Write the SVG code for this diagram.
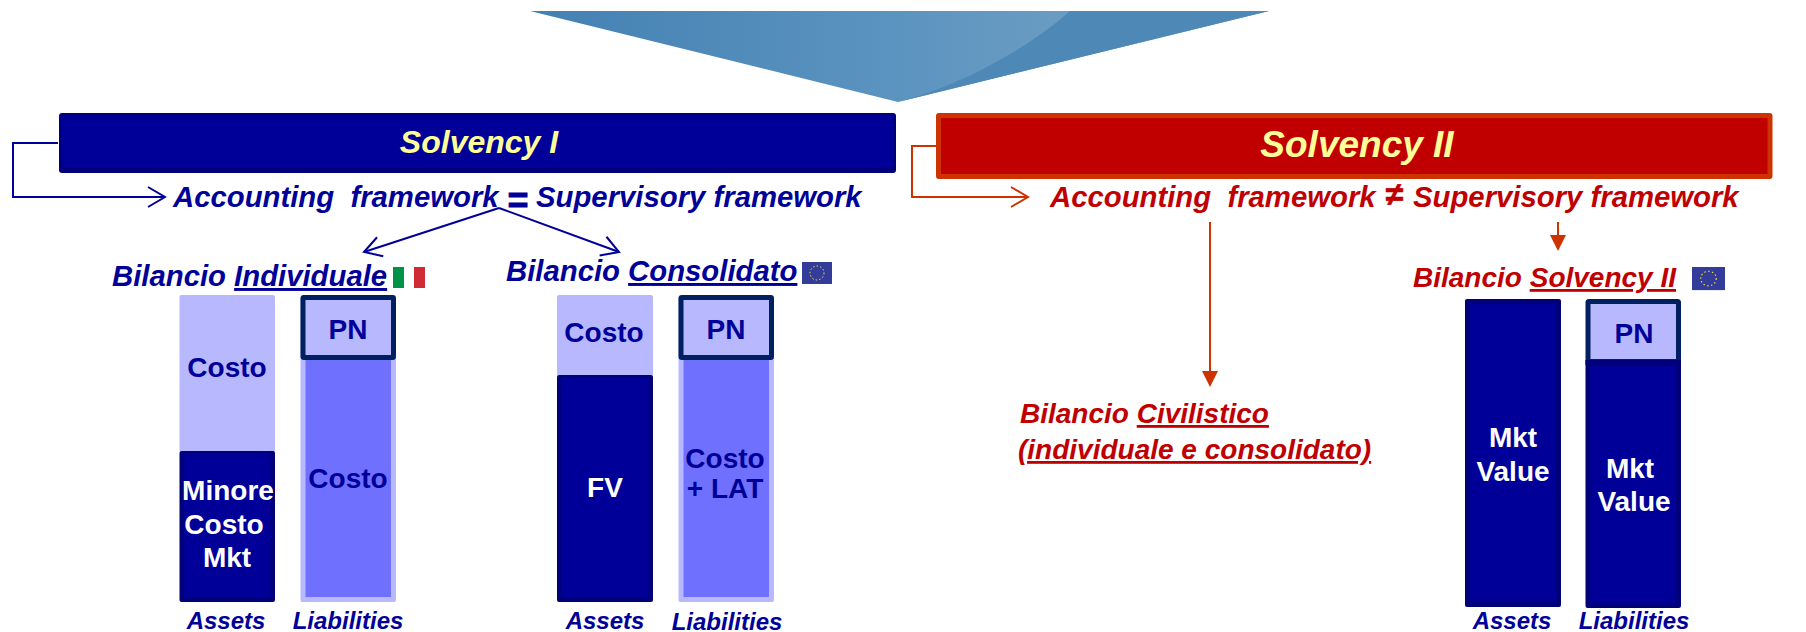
<svg xmlns="http://www.w3.org/2000/svg" width="1806" height="632" viewBox="0 0 1806 632">
<style>
text{font-family:"Liberation Sans",Arial,sans-serif;font-weight:bold;white-space:pre}
.i{font-style:italic}
.b{fill:#000099}
.r{fill:#C00000}
.w{fill:#fff}
.m{font-size:28px;text-anchor:middle}
.l{font-size:24px;font-style:italic;text-anchor:middle;fill:#000099}
.h{font-size:29.300px;font-style:italic}
.h2{font-size:28px;font-style:italic}
.u{text-decoration:underline}
.dko{fill:#000078}
.dki{fill:#000099}
.lt{fill:#B8B8FF}
.md{fill:#7070FF}
.pn{fill:#B8B8FF;stroke:#002060;stroke-width:5}
.lnb{fill:none;stroke:#000099;stroke-width:2}
.lnr{fill:none;stroke:#CC3300;stroke-width:2}
</style>
<defs>
<linearGradient id="tg" gradientUnits="userSpaceOnUse" x1="530" y1="0" x2="1269" y2="0">
<stop offset="0" stop-color="#4380B2"/><stop offset="0.5" stop-color="#5C94C0"/><stop offset="0.72" stop-color="#6A9CC2"/><stop offset="1" stop-color="#6A9CC2"/>
</linearGradient>
<marker id="ob" markerUnits="userSpaceOnUse" markerWidth="22" markerHeight="24" refX="18" refY="11" orient="auto"><path d="M1 1L18 11L1 21" fill="none" stroke="#000099" stroke-width="2"/></marker>
<marker id="or" markerUnits="userSpaceOnUse" markerWidth="22" markerHeight="24" refX="18" refY="11" orient="auto"><path d="M1 1L18 11L1 21" fill="none" stroke="#CC3300" stroke-width="2"/></marker>
<marker id="fr" markerUnits="userSpaceOnUse" markerWidth="18" markerHeight="18" refX="1" refY="8" orient="auto"><path d="M0 0L16 8L0 16Z" fill="#CC3300"/></marker>
<g id="eu"><rect width="30" height="22" fill="#333C99"/><circle cx="15" cy="11" r="7" fill="none" stroke="#FFE74A" stroke-width="1" stroke-dasharray="1.4 2.2"/></g>
</defs>

<g id="banner">
<path d="M530 11H1269L898 102Z" fill="url(#tg)"/>
<path d="M1070 11H1269L898 102C975 82 1040 38 1070 11Z" fill="#4E88B7"/>
</g>

<g id="connectors">
<path class="lnb" d="M58 143H13V197H165" marker-end="url(#ob)"/>
<path class="lnb" d="M499 208L364 252" marker-end="url(#ob)"/>
<path class="lnb" d="M499 208L619 252" marker-end="url(#ob)"/>
<path class="lnr" d="M936 146H912V197H1028" marker-end="url(#or)"/>
<path class="lnr" d="M1210 222V372" marker-end="url(#fr)"/>
<path class="lnr" d="M1558 222V236" marker-end="url(#fr)"/>
</g>

<g id="solvency1">
<rect x="59" y="113" width="837" height="60" rx="3" class="dko"/>
<rect x="62" y="116" width="831" height="52" class="dki"/>
<text x="479" y="153" font-size="32" class="i" text-anchor="middle" fill="#FFFF99">Solvency I</text>
</g>
<g id="solvency2">
<rect x="936" y="113" width="836.500" height="66" rx="3" fill="#CC3300"/>
<rect x="941" y="118" width="826.500" height="56" fill="#C00000"/>
<text x="1357" y="157" font-size="37" class="i" text-anchor="middle" fill="#FFFF99">Solvency II</text>
</g>

<g id="framework1">
<text x="173" y="207" class="h b">Accounting  framework</text>
<text x="518" y="213" font-size="36" text-anchor="middle" class="b" stroke="#000099" stroke-width="0.8">=</text>
<text x="536" y="207" class="h b">Supervisory framework</text>
</g>
<g id="framework2">
<text x="1050" y="207" class="h r">Accounting  framework</text>
<text x="1394" y="205" font-size="32" text-anchor="middle" class="i r" stroke="#C00000" stroke-width="0.7">≠</text>
<text x="1413" y="207" class="h r">Supervisory framework</text>
</g>

<g id="individuale">
<text x="112" y="286" class="h b">Bilancio <tspan class="u">Individuale</tspan></text>
<rect x="393" y="267" width="11" height="21" fill="#009246"/><rect x="414" y="267" width="11" height="21" fill="#CE2B37"/>
<rect x="179.500" y="295" width="95.500" height="157" rx="2" class="lt"/>
<rect x="179.500" y="451" width="95.500" height="151" rx="2" class="dko"/>
<rect x="184" y="453" width="86.500" height="144" class="dki"/>
<text x="227" y="377" class="m b">Costo</text>
<text x="228" y="500" class="m w">Minore</text>
<text x="224" y="534" class="m w">Costo</text>
<text x="227" y="567" class="m w">Mkt</text>
<rect x="300.500" y="295" width="95.500" height="307" rx="2" class="lt"/>
<rect x="305.500" y="358" width="85.500" height="239" class="md"/>
<rect x="303" y="297.500" width="90.500" height="60" rx="1" class="pn"/>
<text x="348" y="339" class="m b">PN</text>
<text x="348" y="488" class="m b">Costo</text>
<text x="226" y="629" class="l">Assets</text>
<text x="348" y="629" class="l">Liabilities</text>
</g>

<g id="consolidato">
<text x="506" y="281" class="h b">Bilancio <tspan class="u">Consolidato</tspan></text>
<use href="#eu" x="802" y="262"/>
<rect x="557" y="295" width="96" height="81" rx="2" class="lt"/>
<rect x="557" y="375" width="96" height="227" rx="2" class="dko"/>
<rect x="561.500" y="377" width="87" height="220" class="dki"/>
<text x="604" y="342" class="m b">Costo</text>
<text x="605" y="497" class="m w">FV</text>
<rect x="678.500" y="295" width="95.500" height="307" rx="2" class="lt"/>
<rect x="683.500" y="358" width="85.500" height="239" class="md"/>
<rect x="681" y="297.500" width="90.500" height="60" rx="1" class="pn"/>
<text x="726" y="339" class="m b">PN</text>
<text x="725" y="468" class="m b">Costo</text>
<text x="725" y="498" class="m b">+ LAT</text>
<text x="605" y="629" class="l">Assets</text>
<text x="727" y="630" class="l">Liabilities</text>
</g>

<g id="civilistico">
<text x="1020" y="423" class="h2 r">Bilancio <tspan class="u">Civilistico</tspan></text>
<text x="1018" y="459" class="h2 r u">(individuale e consolidato)</text>
</g>

<g id="solvencyII">
<text x="1413" y="287" class="h2 r">Bilancio <tspan class="u">Solvency II</tspan></text>
<use href="#eu" transform="translate(1692 267) scale(1.1 1.05)"/>
<rect x="1465" y="299" width="96" height="308" rx="2" class="dko"/>
<rect x="1470" y="304" width="86" height="298" class="dki"/>
<text x="1513" y="447" class="m w">Mkt</text>
<text x="1513" y="481" class="m w">Value</text>
<rect x="1585.500" y="360" width="95.500" height="248" rx="2" class="dko"/>
<rect x="1590.500" y="365" width="85.500" height="238" class="dki"/>
<rect x="1588" y="301.500" width="90.500" height="60" rx="1" class="pn" style="stroke-width:5"/>
<rect x="1585.500" y="360" width="95.500" height="5" class="dko"/>
<text x="1634" y="343" class="m b">PN</text>
<text x="1630" y="478" class="m w">Mkt</text>
<text x="1634" y="511" class="m w">Value</text>
<text x="1512" y="629" class="l">Assets</text>
<text x="1634" y="629" class="l">Liabilities</text>
</g>
</svg>
